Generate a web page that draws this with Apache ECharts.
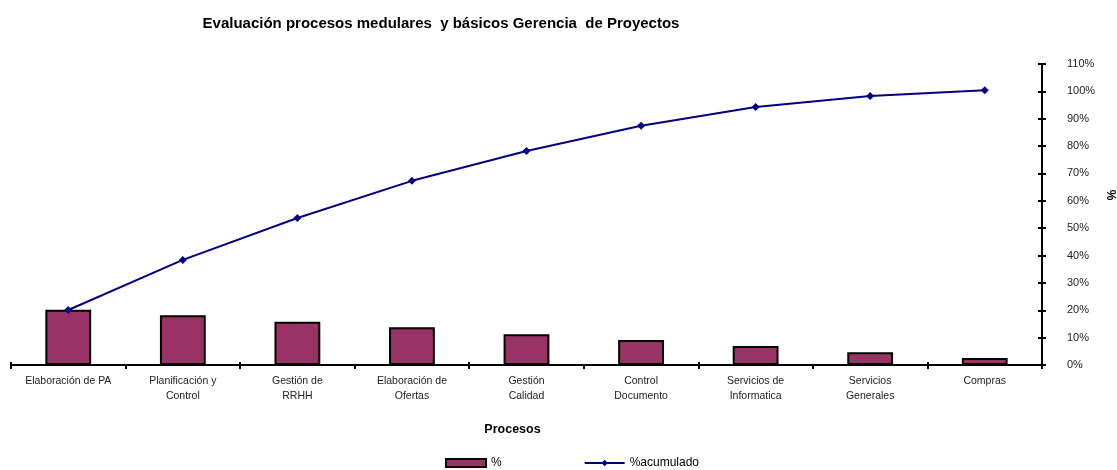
<!DOCTYPE html>
<html>
<head>
<meta charset="utf-8">
<script src="https://cdn.jsdelivr.net/npm/echarts@6/dist/echarts.min.js"></script>
<style>
  html, body { margin: 0; padding: 0; background: #fff; }
  #chart { width: 1117px; height: 470px; }
</style>
</head>
<body>
<div id="chart"></div>
<script>
// datos
const procesos = [
  'Elaboración de PA',
  'Planificación y\nControl',
  'Gestión de\nRRHH',
  'Elaboración de\nOfertas',
  'Gestión\nCalidad',
  'Control\nDocumento',
  'Servicios de\nInformatica',
  'Servicios\nGenerales',
  'Compras'
]
const porcentaje = [20.2, 18.2, 15.8, 13.8, 11.2, 9.1, 6.9, 4.7, 2.6]
const acumulado = [20.1, 38.4, 53.7, 67.3, 78.2, 87.4, 94.3, 98.3, 100.4]

const font = 'Liberation Sans, Arial, sans-serif'
const chart = echarts.init(document.getElementById('chart'))

const yBase = {
  type: 'value',
  position: 'right',
  min: 0,
  max: 110,
  interval: 10,
  splitLine: { show: false },
  axisLine: { show: true, lineStyle: { color: '#000', width: 2 } }
}

chart.setOption({
  animation: false,
  textStyle: { fontFamily: font },
  title: {
    text: 'Evaluación procesos medulares  y básicos Gerencia  de Proyectos',
    left: 436,
    textAlign: 'center',
    top: 11,
    textStyle: { fontSize: 15, fontWeight: 'bold', color: '#000', fontFamily: font }
  },
  legend: {
    left: 440,
    top: 452,
    itemGap: 82,
    itemWidth: 40,
    itemHeight: 8,
    textStyle: { fontSize: 12, color: '#000', fontFamily: font },
    data: [{ name: '%', icon: 'rect' }, { name: '%acumulado' }]
  },
  grid: { left: 11, right: 75, top: 64, bottom: 105, outerBoundsMode: 'none' },
  xAxis: [
    {
      type: 'category',
      data: procesos,
      name: 'Procesos',
      nameLocation: 'middle',
      nameGap: 58,
      nameTextStyle: { fontSize: 12.5, fontWeight: 'bold', color: '#000', fontFamily: font, padding: [0, 0, 0, -28] },
      axisLine: { lineStyle: { color: '#000', width: 2 } },
      axisTick: { show: true, length: 4, lineStyle: { color: '#000', width: 2 } },
      axisLabel: { fontSize: 10.5, color: '#222', lineHeight: 15, margin: 9, interval: 0, fontFamily: font }
    },
    {
      type: 'category',
      data: procesos,
      position: 'bottom',
      axisLine: { show: false },
      axisTick: { show: true, inside: true, length: 3, lineStyle: { color: '#000', width: 2 } },
      axisLabel: { show: false }
    }
  ],
  yAxis: [
    Object.assign({}, yBase, {
      axisTick: { show: true, length: 4, lineStyle: { color: '#000', width: 2 } },
      axisLabel: { formatter: '{value}%', fontSize: 11, color: '#222', margin: 25, fontFamily: font }
    }),
    Object.assign({}, yBase, {
      axisLine: { show: false },
      axisTick: { show: true, inside: true, length: 4, lineStyle: { color: '#000', width: 2 } },
      axisLabel: { show: false }
    })
  ],
  graphic: [
    {
      type: 'text',
      x: 1110,
      y: 195,
      rotation: -Math.PI / 2,
      style: { text: '%', font: 'bold 12px ' + font, fill: '#000', textAlign: 'center', textVerticalAlign: 'middle' }
    }
  ],
  series: [
    {
      name: '%',
      type: 'bar',
      data: porcentaje,
      barWidth: '40%',
      itemStyle: { color: '#993366', borderColor: '#000', borderWidth: 2 }
    },
    {
      name: '%acumulado',
      type: 'line',
      data: acumulado,
      symbol: 'diamond',
      symbolSize: 8,
      itemStyle: { color: '#000080' },
      lineStyle: { color: '#000080', width: 2 }
    }
  ]
})
</script>
</body>
</html>
